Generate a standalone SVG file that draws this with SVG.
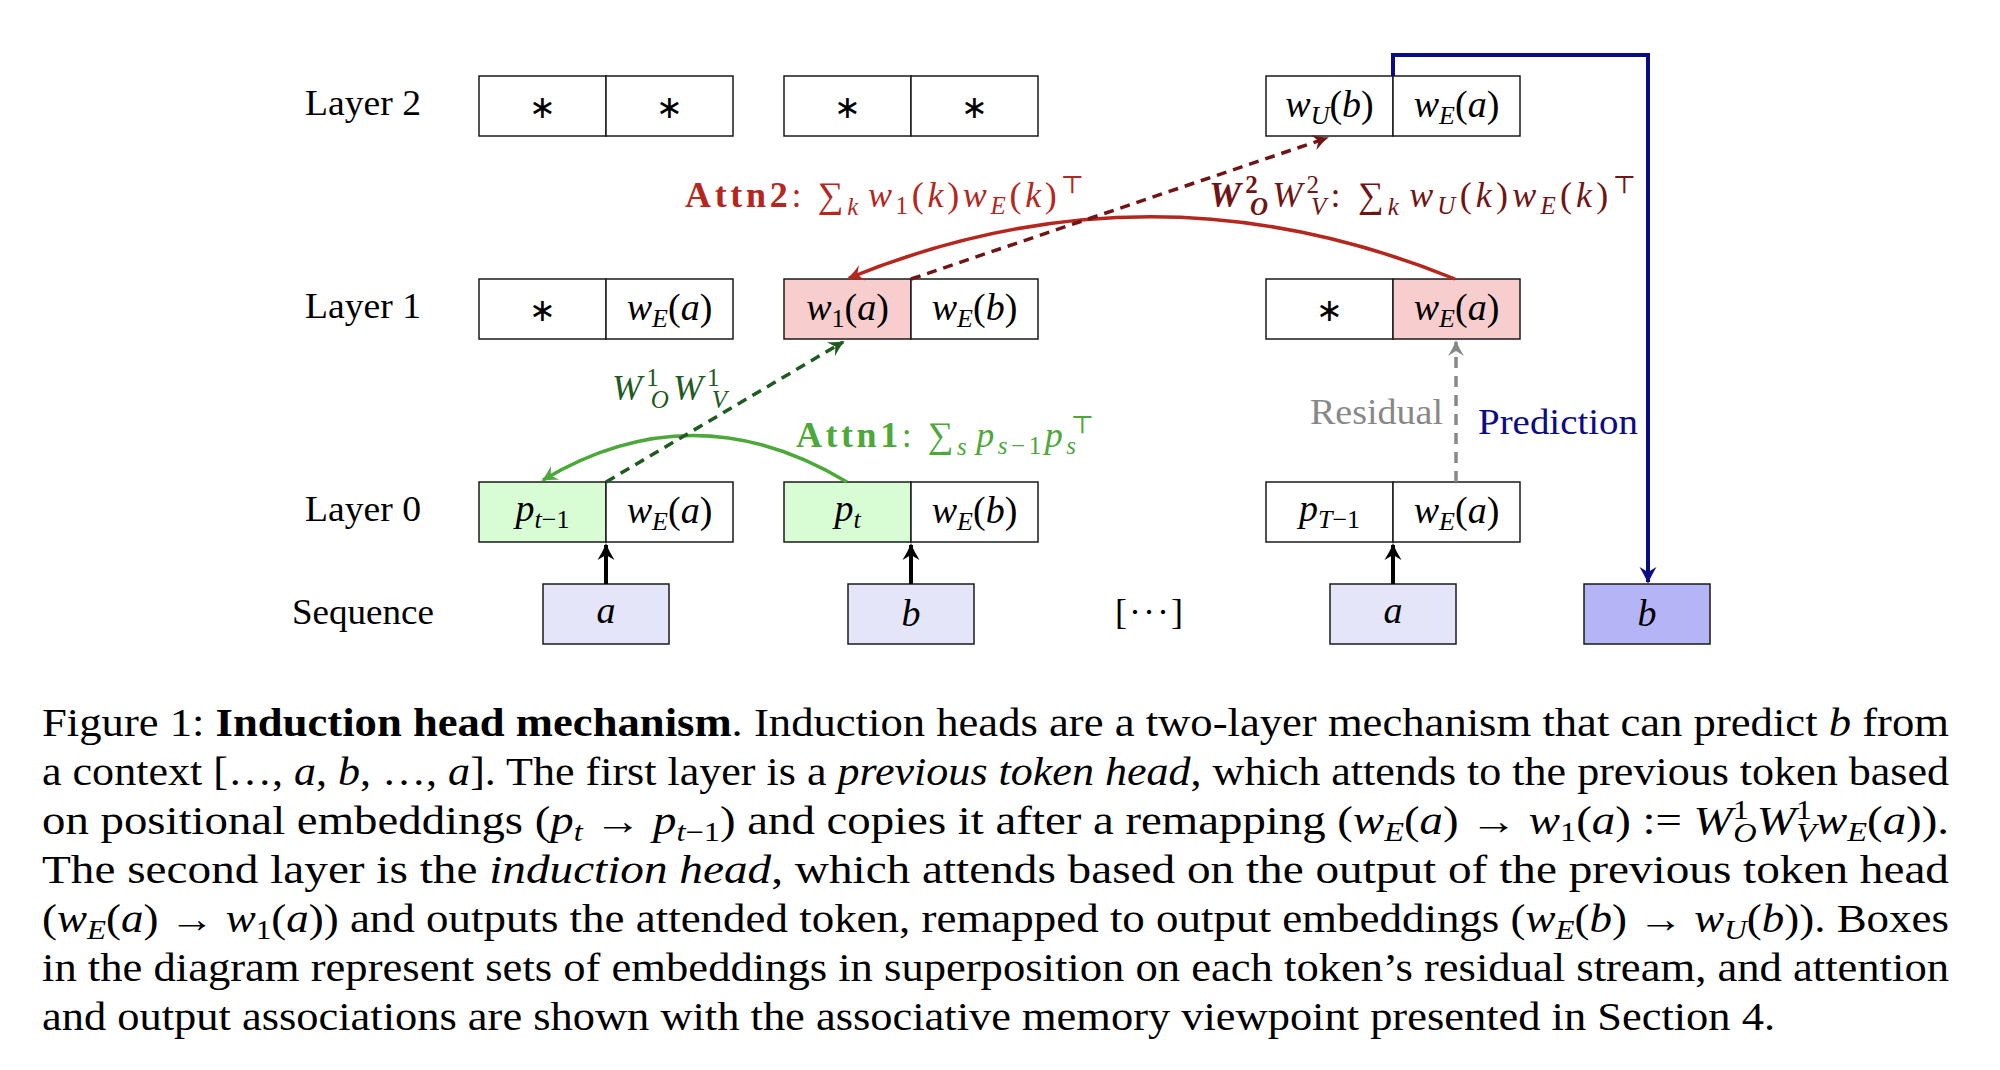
<svg xmlns="http://www.w3.org/2000/svg" width="2000" height="1070" viewBox="0 0 2000 1070">
<style>
.bg{fill:#fff}
.box{stroke:#1a1a1a;stroke-width:1.5}
.w{fill:#fff}.pk{fill:#f7cdcd}.gn{fill:#d8fcd4}.lv{fill:#e5e5fa}.bl{fill:#b4b4f7}
.t{font-family:"Liberation Serif","DejaVu Serif",serif;font-size:36px;fill:#000}
.c{font-size:38px}
.i{font-style:italic}
.s{font-size:25px}
.cs2{font-size:26px}
.ast{font-family:"DejaVu Sans",sans-serif;font-size:32px}
.cap{font-family:"Liberation Serif","DejaVu Serif",serif;font-size:39px;fill:#000}
.cs{font-size:27px}
.b{font-weight:bold}
</style>
<defs>
<marker id="ah-k" viewBox="-18 -10 22 20" markerWidth="22" markerHeight="20" refX="0" refY="0" orient="auto" markerUnits="userSpaceOnUse"><path d="M2,0 C-4,-2 -10,-5.5 -15,-8.5 L-10,0 L-15,8.5 C-10,5.5 -4,2 2,0 Z" fill="#000"/></marker>
<marker id="ah-g" viewBox="-18 -10 22 20" markerWidth="22" markerHeight="20" refX="0" refY="0" orient="auto" markerUnits="userSpaceOnUse"><path d="M2,0 C-4,-2 -9,-5 -14,-8 L-9,0 L-14,8 C-9,5 -4,2 2,0 Z" fill="#4ca83a"/></marker>
<marker id="ah-dg" viewBox="-18 -10 22 20" markerWidth="22" markerHeight="20" refX="0" refY="0" orient="auto" markerUnits="userSpaceOnUse"><path d="M2,0 C-4,-2 -9,-5 -14,-8 L-9,0 L-14,8 C-9,5 -4,2 2,0 Z" fill="#1f5a1f"/></marker>
<marker id="ah-r" viewBox="-18 -10 22 20" markerWidth="22" markerHeight="20" refX="0" refY="0" orient="auto" markerUnits="userSpaceOnUse"><path d="M2,0 C-4,-2 -9,-5 -14,-8 L-9,0 L-14,8 C-9,5 -4,2 2,0 Z" fill="#b5271e"/></marker>
<marker id="ah-dr" viewBox="-18 -10 22 20" markerWidth="22" markerHeight="20" refX="0" refY="0" orient="auto" markerUnits="userSpaceOnUse"><path d="M2,0 C-4,-2 -9,-5 -14,-8 L-9,0 L-14,8 C-9,5 -4,2 2,0 Z" fill="#701515"/></marker>
<marker id="ah-gr" viewBox="-18 -10 22 20" markerWidth="22" markerHeight="20" refX="0" refY="0" orient="auto" markerUnits="userSpaceOnUse"><path d="M2,0 C-4,-2 -9,-5 -14,-8 L-9,0 L-14,8 C-9,5 -4,2 2,0 Z" fill="#888888"/></marker>
<marker id="ah-n" viewBox="-18 -10 22 20" markerWidth="22" markerHeight="20" refX="0" refY="0" orient="auto" markerUnits="userSpaceOnUse"><path d="M2,0 C-4,-2 -10,-5.5 -15,-8.5 L-10,0 L-15,8.5 C-10,5.5 -4,2 2,0 Z" fill="#0b0b86"/></marker>
</defs>
<rect class="bg" x="0" y="0" width="2000" height="1070"/>

<g id="row-labels" class="t" text-anchor="middle">
<text x="363" y="115" textLength="116" lengthAdjust="spacingAndGlyphs">Layer 2</text>
<text x="363" y="318" textLength="116" lengthAdjust="spacingAndGlyphs">Layer 1</text>
<text x="363" y="521" textLength="116" lengthAdjust="spacingAndGlyphs">Layer 0</text>
<text x="363" y="624" textLength="142" lengthAdjust="spacingAndGlyphs">Sequence</text>
</g>

<!-- Layer 2 -->
<g id="l2-a">
<rect class="box w" x="479" y="76" width="127" height="60"/><rect class="box w" x="606" y="76" width="127" height="60"/>
<text class="ast" x="542.5" y="118" text-anchor="middle">∗</text><text class="ast" x="669.5" y="118" text-anchor="middle">∗</text>
</g>
<g id="l2-b">
<rect class="box w" x="784" y="76" width="127" height="60"/><rect class="box w" x="911" y="76" width="127" height="60"/>
<text class="ast" x="847.5" y="118" text-anchor="middle">∗</text><text class="ast" x="974.5" y="118" text-anchor="middle">∗</text>
</g>
<g id="l2-c">
<rect class="box w" x="1266" y="76" width="127" height="60"/><rect class="box w" x="1393" y="76" width="127" height="60"/>
<text class="t c" x="1329.5" y="117" text-anchor="middle"><tspan class="i">w</tspan><tspan class="cs2 i" dy="7">U</tspan><tspan dy="-7">(</tspan><tspan class="i">b</tspan>)</text>
<text class="t c" x="1456.5" y="117" text-anchor="middle"><tspan class="i">w</tspan><tspan class="cs2 i" dy="7">E</tspan><tspan dy="-7">(</tspan><tspan class="i">a</tspan>)</text>
</g>

<!-- Layer 1 -->
<g id="l1-a">
<rect class="box w" x="479" y="279" width="127" height="60"/><rect class="box w" x="606" y="279" width="127" height="60"/>
<text class="ast" x="542.5" y="321" text-anchor="middle">∗</text>
<text class="t c" x="669.5" y="320" text-anchor="middle"><tspan class="i">w</tspan><tspan class="cs2 i" dy="7">E</tspan><tspan dy="-7">(</tspan><tspan class="i">a</tspan>)</text>
</g>
<g id="l1-b">
<rect class="box pk" x="784" y="279" width="127" height="60"/><rect class="box w" x="911" y="279" width="127" height="60"/>
<text class="t c" x="847.5" y="320" text-anchor="middle"><tspan class="i">w</tspan><tspan class="cs2" dy="7">1</tspan><tspan dy="-7">(</tspan><tspan class="i">a</tspan>)</text>
<text class="t c" x="974.5" y="320" text-anchor="middle"><tspan class="i">w</tspan><tspan class="cs2 i" dy="7">E</tspan><tspan dy="-7">(</tspan><tspan class="i">b</tspan>)</text>
</g>
<g id="l1-c">
<rect class="box w" x="1266" y="279" width="127" height="60"/><rect class="box pk" x="1393" y="279" width="127" height="60"/>
<text class="ast" x="1329.5" y="321" text-anchor="middle">∗</text>
<text class="t c" x="1456.5" y="320" text-anchor="middle"><tspan class="i">w</tspan><tspan class="cs2 i" dy="7">E</tspan><tspan dy="-7">(</tspan><tspan class="i">a</tspan>)</text>
</g>

<!-- Layer 0 -->
<g id="l0-a">
<rect class="box gn" x="479" y="482" width="127" height="60"/><rect class="box w" x="606" y="482" width="127" height="60"/>
<text class="t c" x="542.5" y="521" text-anchor="middle"><tspan class="i">p</tspan><tspan class="cs2" dy="7"><tspan class="i">t</tspan>−1</tspan></text>
<text class="t c" x="669.5" y="523" text-anchor="middle"><tspan class="i">w</tspan><tspan class="cs2 i" dy="7">E</tspan><tspan dy="-7">(</tspan><tspan class="i">a</tspan>)</text>
</g>
<g id="l0-b">
<rect class="box gn" x="784" y="482" width="127" height="60"/><rect class="box w" x="911" y="482" width="127" height="60"/>
<text class="t c" x="847.5" y="521" text-anchor="middle"><tspan class="i">p</tspan><tspan class="cs2 i" dy="7">t</tspan></text>
<text class="t c" x="974.5" y="523" text-anchor="middle"><tspan class="i">w</tspan><tspan class="cs2 i" dy="7">E</tspan><tspan dy="-7">(</tspan><tspan class="i">b</tspan>)</text>
</g>
<g id="l0-c">
<rect class="box w" x="1266" y="482" width="127" height="60"/><rect class="box w" x="1393" y="482" width="127" height="60"/>
<text class="t c" x="1329.5" y="521" text-anchor="middle"><tspan class="i">p</tspan><tspan class="cs2" dy="7"><tspan class="i">T</tspan>−1</tspan></text>
<text class="t c" x="1456.5" y="523" text-anchor="middle"><tspan class="i">w</tspan><tspan class="cs2 i" dy="7">E</tspan><tspan dy="-7">(</tspan><tspan class="i">a</tspan>)</text>
</g>

<!-- Sequence -->
<g id="seq-a1"><rect class="box lv" x="543" y="584" width="126" height="60"/><text class="t c i" x="606" y="623" text-anchor="middle">a</text></g>
<g id="seq-b1"><rect class="box lv" x="848" y="584" width="126" height="60"/><text class="t c i" x="911" y="626" text-anchor="middle">b</text></g>
<g id="seq-dots"><text class="t" x="1150" y="624" text-anchor="middle" letter-spacing="2">[···]</text></g>
<g id="seq-a2"><rect class="box lv" x="1330" y="584" width="126" height="60"/><text class="t c i" x="1393" y="623" text-anchor="middle">a</text></g>
<g id="seq-b2"><rect class="box bl" x="1584" y="584" width="126" height="60"/><text class="t c i" x="1647" y="626" text-anchor="middle">b</text></g>

<!-- connectors -->
<g id="connectors" fill="none">
<path d="M606,584 V545" stroke="#000" stroke-width="4" marker-end="url(#ah-k)"/>
<path d="M911,584 V545" stroke="#000" stroke-width="4" marker-end="url(#ah-k)"/>
<path d="M1393,584 V545" stroke="#000" stroke-width="4" marker-end="url(#ah-k)"/>
<path d="M847,482 Q694,390 543,480" stroke="#4ca83a" stroke-width="3.5" marker-end="url(#ah-g)"/>
<path d="M606,482 L843,342" stroke="#1f5a1f" stroke-width="3.5" stroke-dasharray="10,7" marker-end="url(#ah-dg)"/>
<path d="M1455,279 Q1151,155 849,278" stroke="#b5271e" stroke-width="3.5" marker-end="url(#ah-r)"/>
<path d="M911,279 L1327,138" stroke="#701515" stroke-width="3.5" stroke-dasharray="10,7" marker-end="url(#ah-dr)"/>
<path d="M1456,482 V342" stroke="#888888" stroke-width="3.5" stroke-dasharray="11,8" marker-end="url(#ah-gr)"/>
<path d="M1393,76 V55 H1648 V582" stroke="#0b0b86" stroke-width="4" marker-end="url(#ah-n)"/>
</g>

<!-- connector labels -->
<g id="edge-labels" class="t">
<text x="685" y="207" fill="#b5271e" textLength="399" lengthAdjust="spacing"><tspan class="b">Attn2</tspan>: ∑<tspan class="s i" dy="8">k</tspan><tspan class="i" dy="-8" dx="6">w</tspan><tspan class="s" dy="7">1</tspan><tspan dy="-7">(</tspan><tspan class="i">k</tspan>)<tspan class="i">w</tspan><tspan class="s i" dy="7">E</tspan><tspan dy="-7">(</tspan><tspan class="i">k</tspan>)<tspan class="s" dy="-14">⊤</tspan></text>
<text x="1209" y="207" fill="#701515" textLength="427" lengthAdjust="spacing"><tspan class="b i">W</tspan><tspan class="s b" dy="-14">2</tspan><tspan class="s b i" dx="-12" dy="22">O</tspan><tspan class="i" dy="-8">W</tspan><tspan class="s" dy="-14">2</tspan><tspan class="s i" dx="-12" dy="22">V</tspan><tspan dy="-8">: ∑</tspan><tspan class="s i" dy="8">k</tspan><tspan class="i" dy="-8" dx="6">w</tspan><tspan class="s i" dy="7">U</tspan><tspan dy="-7">(</tspan><tspan class="i">k</tspan>)<tspan class="i">w</tspan><tspan class="s i" dy="7">E</tspan><tspan dy="-7">(</tspan><tspan class="i">k</tspan>)<tspan class="s" dy="-14">⊤</tspan></text>
<text x="612" y="400" fill="#1f5a1f" textLength="115" lengthAdjust="spacing"><tspan class="i">W</tspan><tspan class="s" dy="-14">1</tspan><tspan class="s i" dx="-12" dy="22">O</tspan><tspan class="i" dy="-8">W</tspan><tspan class="s" dy="-14">1</tspan><tspan class="s i" dx="-12" dy="22">V</tspan></text>
<text x="796" y="447" fill="#4ca83a" textLength="298" lengthAdjust="spacing"><tspan class="b">Attn1</tspan>: ∑<tspan class="s i" dy="8">s</tspan><tspan class="i" dy="-8" dx="6">p</tspan><tspan class="s" dy="7"><tspan class="i">s</tspan>−1</tspan><tspan class="i" dy="-7">p</tspan><tspan class="s i" dy="7">s</tspan><tspan class="s" dx="-9" dy="-21">⊤</tspan></text>
<text x="1310" y="424" fill="#888888" textLength="133" lengthAdjust="spacingAndGlyphs">Residual</text>
<text x="1478" y="434" fill="#0b0b86" textLength="160" lengthAdjust="spacingAndGlyphs">Prediction</text>
</g>

<!-- caption -->
<g id="caption" class="cap">
<text x="42" y="736" textLength="1907" lengthAdjust="spacingAndGlyphs">Figure 1: <tspan class="b">Induction head mechanism</tspan>. Induction heads are a two-layer mechanism that can predict <tspan class="i">b</tspan> from</text>
<text x="42" y="785" textLength="1907" lengthAdjust="spacingAndGlyphs">a context […, <tspan class="i">a</tspan>, <tspan class="i">b</tspan>, …, <tspan class="i">a</tspan>]. The first layer is a <tspan class="i">previous token head</tspan>, which attends to the previous token based</text>
<text x="42" y="834" textLength="1907" lengthAdjust="spacingAndGlyphs">on positional embeddings (<tspan class="i">p</tspan><tspan class="cs i" dy="7">t</tspan><tspan dy="-7"> → </tspan><tspan class="i">p</tspan><tspan class="cs" dy="7"><tspan class="i">t</tspan>−1</tspan><tspan dy="-7">) and copies it after a remapping (</tspan><tspan class="i">w</tspan><tspan class="cs i" dy="7">E</tspan><tspan dy="-7">(</tspan><tspan class="i">a</tspan>) → <tspan class="i">w</tspan><tspan class="cs" dy="7">1</tspan><tspan dy="-7">(</tspan><tspan class="i">a</tspan>) := <tspan class="i">W</tspan><tspan class="cs" dy="-15">1</tspan><tspan class="cs i" dx="-13" dy="23">O</tspan><tspan class="i" dy="-8">W</tspan><tspan class="cs" dy="-15">1</tspan><tspan class="cs i" dx="-13" dy="23">V</tspan><tspan class="i" dy="-8">w</tspan><tspan class="cs i" dy="7">E</tspan><tspan dy="-7">(</tspan><tspan class="i">a</tspan>)).</text>
<text x="42" y="883" textLength="1907" lengthAdjust="spacingAndGlyphs">The second layer is the <tspan class="i">induction head</tspan>, which attends based on the output of the previous token head</text>
<text x="42" y="932" textLength="1907" lengthAdjust="spacingAndGlyphs">(<tspan class="i">w</tspan><tspan class="cs i" dy="7">E</tspan><tspan dy="-7">(</tspan><tspan class="i">a</tspan>) → <tspan class="i">w</tspan><tspan class="cs" dy="7">1</tspan><tspan dy="-7">(</tspan><tspan class="i">a</tspan>)) and outputs the attended token, remapped to output embeddings (<tspan class="i">w</tspan><tspan class="cs i" dy="7">E</tspan><tspan dy="-7">(</tspan><tspan class="i">b</tspan>) → <tspan class="i">w</tspan><tspan class="cs i" dy="7">U</tspan><tspan dy="-7">(</tspan><tspan class="i">b</tspan>)). Boxes</text>
<text x="42" y="981" textLength="1907" lengthAdjust="spacingAndGlyphs">in the diagram represent sets of embeddings in superposition on each token’s residual stream, and attention</text>
<text x="42" y="1030" textLength="1733" lengthAdjust="spacingAndGlyphs">and output associations are shown with the associative memory viewpoint presented in Section 4.</text>
</g>
</svg>
